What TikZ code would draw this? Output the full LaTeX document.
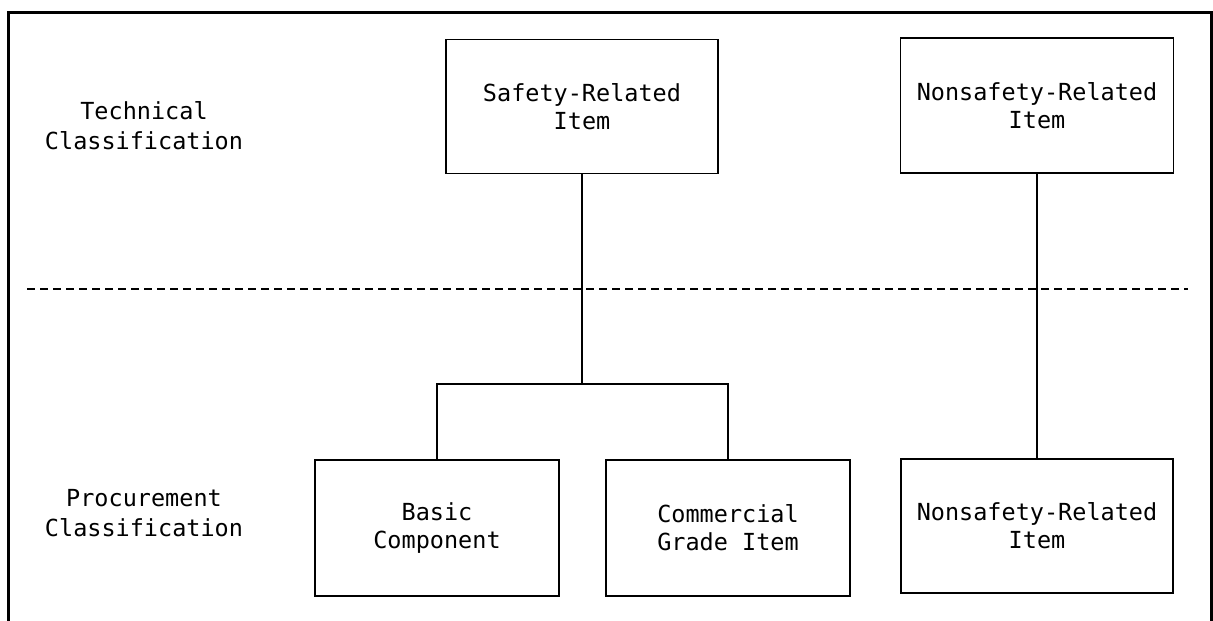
\documentclass[tikz,border=0pt]{standalone}
\usepackage{fontspec}
\setmonofont{DejaVu Sans Mono}
\begin{document}
\begin{tikzpicture}[x=1pt,y=-1pt,
  box/.style={draw,line width=1.8pt,inner sep=0pt,align=center,font=\ttfamily\fontsize{23.5}{28}\selectfont},
  lbl/.style={inner sep=0pt,align=center,font=\ttfamily\fontsize{23.5}{30}\selectfont},
  conn/.style={line width=1.6pt}]
\useasboundingbox (0,0) rectangle (1213,621);
\draw[line width=3pt] (8,640) -- (8,12) -- (1211,12) -- (1211,640);
\draw[line width=1.5pt,dash pattern=on 8pt off 5pt] (27,289) -- (1188,289);
\node[lbl] (tc) at (144,126) {Technical\\Classification};
\node[lbl] (pc) at (144,513) {Procurement\\Classification};
\node[box,minimum width=272pt,minimum height=134pt] (sr) at (582,106.5) {Safety-Related\\Item};
\node[box,minimum width=273pt,minimum height=135pt] (nt) at (1037,105.5) {Nonsafety-Related\\Item};
\node[box,minimum width=244pt,minimum height=136pt] (bc) at (437,528) {Basic\\Component};
\node[box,minimum width=244pt,minimum height=136pt] (cg) at (728,528) {Commercial\\Grade Item};
\node[box,minimum width=272pt,minimum height=134pt] (nb) at (1037,526) {Nonsafety-Related\\Item};
\coordinate (br) at (582,384);
\draw[conn] (sr.south) -- (br);
\draw[conn] (bc.north) |- (br) -| (cg.north);
\draw[conn] (nt.south) -- (nb.north);
\end{tikzpicture}
\end{document}
